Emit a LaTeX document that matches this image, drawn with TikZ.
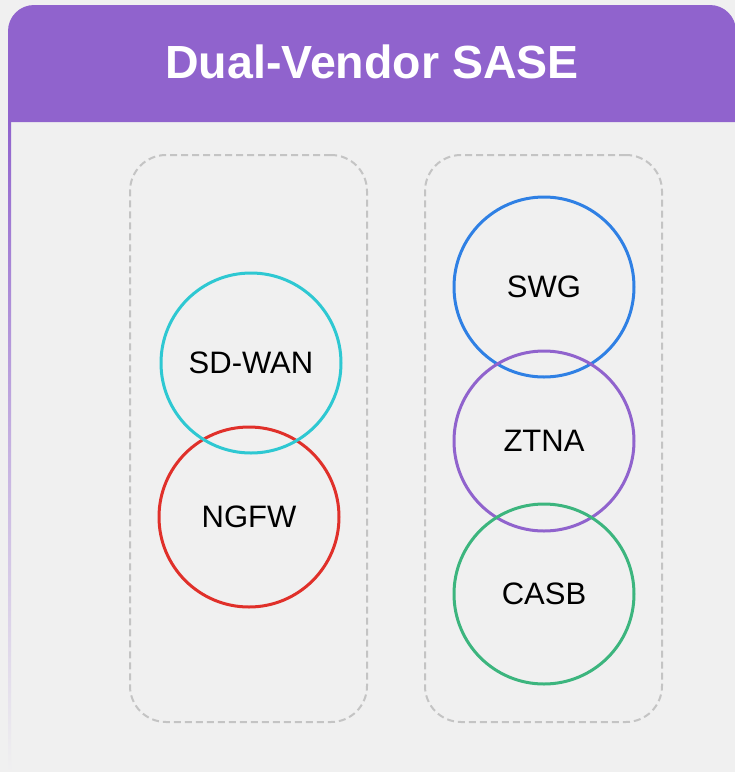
\documentclass[tikz,border=0pt]{standalone}
\usepackage{fontspec}
\setmainfont{Liberation Sans}
\definecolor{bgcard}{HTML}{F0F0F0}
\definecolor{hdrpurple}{HTML}{9063CD}
\definecolor{sdwancol}{HTML}{2EC8D2}
\definecolor{ngfwcol}{HTML}{E0302A}
\definecolor{swgcol}{HTML}{2F80E4}
\definecolor{ztnacol}{HTML}{9063CD}
\definecolor{casbcol}{HTML}{3CB57E}
\definecolor{groupcol}{HTML}{C4C4C4}

\begin{document}
\begin{tikzpicture}[
  x=1pt, y=-1pt,
  service/.style = {circle,draw=#1,line width=3pt,minimum size=180pt,inner sep=0pt,
                    font=\fontsize{31}{35}\selectfont},
  group/.style = {draw=groupcol,line width=2pt,dash pattern=on 7pt off 4pt,
                  rounded corners=36pt,minimum width=237pt,minimum height=567pt},
  header/.style = {fill=hdrpurple}
  ]
  \useasboundingbox (0,0) rectangle (735,772);
  \fill[bgcard] (0,0) rectangle (735,772);
  % header bar and fading left edge
  \fill[header] (8,122) [rounded corners=26pt] -- (8,5) -- (736,5) [sharp corners] -- (736,122) -- cycle;
  \shade[top color=hdrpurple, bottom color=bgcard, middle color=hdrpurple!45!bgcard] (8,122) rectangle (11,772);
  \node[text=white,font=\fontsize{46.5}{50}\selectfont\bfseries] (title) at (372,62) {Dual-Vendor SASE};
  % vendor groups
  \node[group] (edge) at (248.5,438.5) {};
  \node[group] (cloud) at (543.5,438.5) {};
  % services
  \node[service=ngfwcol]  (ngfw)  at (249,517) {NGFW};
  \node[service=sdwancol] (sdwan) at (251,363) {SD-WAN};
  \node[service=swgcol]   (swg)   at (544,287) {SWG};
  \node[service=ztnacol]  (ztna)  at (544,441) {ZTNA};
  \node[service=casbcol]  (casb)  at (544,594) {CASB};
\end{tikzpicture}
\end{document}
